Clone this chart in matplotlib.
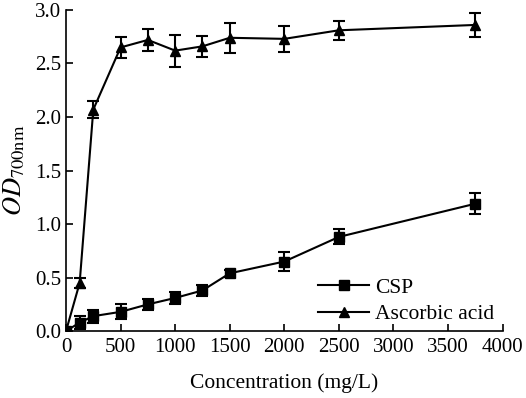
import matplotlib
matplotlib.use("Agg")
import matplotlib.pyplot as plt
from matplotlib.lines import Line2D

conc = [0, 125, 250, 500, 750, 1000, 1250, 1500, 2000, 2500, 3750]

csp = [0.0, 0.08, 0.14, 0.18, 0.25, 0.31, 0.38, 0.54, 0.65, 0.88, 1.19]
csp_err = [0.02, 0.06, 0.06, 0.07, 0.05, 0.06, 0.05, 0.03, 0.09, 0.07, 0.10]

vc = [0.0, 0.45, 2.07, 2.65, 2.72, 2.62, 2.66, 2.74, 2.73, 2.81, 2.86]
vc_err = [0.02, 0.05, 0.08, 0.10, 0.10, 0.15, 0.10, 0.14, 0.12, 0.09, 0.11]

xticks = [0, 500, 1000, 1500, 2000, 2500, 3000, 3500, 4000]
yticks = [0.0, 0.5, 1.0, 1.5, 2.0, 2.5, 3.0]

plt.rcParams["font.family"] = "Liberation Serif"
plt.rcParams["mathtext.fontset"] = "stix"

fig = plt.figure(figsize=(5.26, 3.98), dpi=100)
ax = fig.add_axes([0.1255, 0.168, 0.830, 0.807])

common = dict(color="black", lw=1.5, capsize=4, elinewidth=1.5, capthick=1.5)
ax.errorbar(conc, csp, yerr=csp_err, marker="s", ms=6.5, **common)
ax.errorbar(conc, vc, yerr=vc_err, marker="^", ms=7.5, **common)

ax.set_xlim(0, 4000)
ax.set_ylim(0, 3.0)
ax.set_xticks(xticks)
ax.set_yticks(yticks)
ax.set_yticklabels([f"{v:.1f}" for v in yticks])
ax.tick_params(direction="in", labelsize=15, width=1.2, length=5)
ax.tick_params(axis="x", pad=5)
for s in ["top", "right"]:
    ax.spines[s].set_visible(False)
for s in ["left", "bottom"]:
    ax.spines[s].set_linewidth(1.2)

ax.set_xlabel("Concentration (mg/L)", fontsize=15.5, labelpad=12)
ax.set_ylabel(r"$\mathit{OD}_{\mathrm{700nm}}$", fontsize=19, labelpad=6)

handles = [Line2D([], [], color="black", lw=1.5, marker="s", ms=6.5),
           Line2D([], [], color="black", lw=1.5, marker="^", ms=7.5)]
ax.legend(handles, ["CSP", "Ascorbic acid"], loc="lower right", frameon=False,
          fontsize=15.5, handlelength=2.4, handletextpad=0.25,
          bbox_to_anchor=(1.0, -0.005), borderaxespad=0.0, labelspacing=0.3)

fig.savefig("out.png", dpi=100)
